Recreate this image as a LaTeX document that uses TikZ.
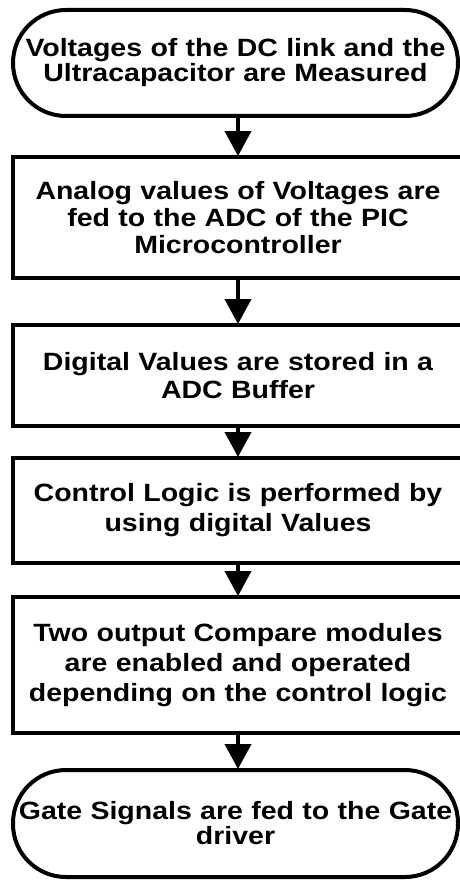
\documentclass[tikz,border=0pt]{standalone}
\usepackage{fontspec}
\setmainfont[FakeStretch=1.14]{Liberation Sans}
\usetikzlibrary{arrows.meta}
\begin{document}
\begin{tikzpicture}[x=1pt,y=-1pt,
  every node/.style={font=\bfseries\fontsize{25}{26}\selectfont, align=center, text width=445pt, inner sep=0pt},
  lead/.style={font=\bfseries\fontsize{25}{#1}\selectfont},
  procbox/.style={draw, line width=4pt, minimum width=450pt},
  termbox/.style={draw, line width=4pt, minimum width=445pt, rounded corners=53pt},
  flow/.style={line width=4pt, -{Triangle[width=26pt,length=25pt]}, shorten >=-1pt}
]
\useasboundingbox (0,0) rectangle (460,880);
\node[termbox, lead=25, minimum height=106pt] (t1) at (235.5,63)
  {Voltages of the DC link and the\\Ultracapacitor are Measured};
\node[procbox, lead=27, minimum height=121pt] (b2) at (238,217.5)
  {Analog values of Voltages are\\fed to the ADC of the PIC\\Microcontroller};
\node[procbox, lead=28, minimum height=101pt] (b3) at (238,375.5)
  {Digital Values are stored in a\\ADC Buffer};
\node[procbox, lead=30, minimum height=105pt] (b4) at (238,510.5)
  {Control Logic is performed by\\using digital Values};
\node[procbox, lead=30, minimum height=136pt] (b5) at (238,665)
  {Two output Compare modules\\are enabled and operated\\depending on the control logic};
\node[termbox, lead=25, minimum height=107pt] (t6) at (235.5,823.5)
  {Gate Signals are fed to the Gate\\driver};
\draw[flow] (t1.south -| 238,0) -- (b2.north);
\draw[flow] (b2.south) -- (b3.north);
\draw[flow] (b3.south) -- (b4.north);
\draw[flow] (b4.south) -- (b5.north);
\draw[flow] (b5.south) -- (t6.north -| 238,0);
\end{tikzpicture}
\end{document}
